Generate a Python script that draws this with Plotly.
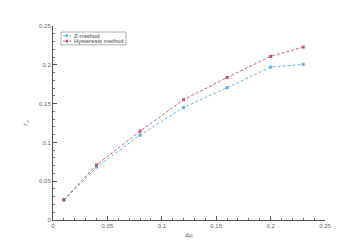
import plotly.graph_objects as go

x_vals = [0.01, 0.04, 0.08, 0.12, 0.16, 0.20, 0.23]
z_method = [0.0255, 0.068, 0.1093, 0.145, 0.1705, 0.197, 0.2006]
hysteresis = [0.0262, 0.071, 0.1144, 0.155, 0.1837, 0.2108, 0.2228]
series_names = ["Z-method", "Hysteresis method"]
colors = ["#5dade2", "#c4506c"]

fig = go.Figure()
for name, vals, c in zip(series_names, [z_method, hysteresis], colors):
    fig.add_trace(go.Scatter(x=x_vals, y=vals, name=name, mode="lines+markers",
                             line=dict(color=c, dash="3px,2px", width=0.9),
                             marker=dict(symbol="square", size=3, color=c),
                             showlegend=False))

axis_common = dict(showgrid=False, zeroline=False, showline=True, linecolor="#555",
                   linewidth=1, ticks="inside", ticklen=4, tickcolor="#555",
                   tickfont=dict(size=6, color="#666", family="Liberation Sans"),
                   minor=dict(ticks="inside", ticklen=2, tickcolor="#777", dtick=0.01))
fig.update_xaxes(range=[0, 0.25], dtick=0.05,
                 title=dict(text="Δμ", font=dict(size=6, color="#555"), standoff=4),
                 **axis_common)
fig.update_yaxes(range=[0, 0.25], dtick=0.05,
                 title=dict(text="Γ<sub>n</sub>", font=dict(size=6, color="#555"), standoff=10),
                 **axis_common)

# compact legend drawn in paper coordinates
fig.add_shape(type="rect", xref="paper", yref="paper", x0=0.0294, x1=0.268, y0=0.903, y1=0.969,
              line=dict(color="#888", width=0.7), fillcolor="white", layer="above")
for i, (name, c) in enumerate(zip(series_names, colors)):
    yy = [0.950, 0.922][i]
    fig.add_shape(type="line", xref="paper", yref="paper", x0=0.0368, x1=0.0662, y0=yy, y1=yy,
                  line=dict(color=c, width=1, dash="dot"), layer="above")
    fig.add_shape(type="rect", xref="paper", yref="paper", x0=0.0478, x1=0.0552,
                  y0=yy - 0.0077, y1=yy + 0.0077, line=dict(width=0), fillcolor=c, layer="above")
    fig.add_annotation(xref="paper", yref="paper", x=0.0699, y=yy, text=name, showarrow=False,
                       xanchor="left", yanchor="middle",
                       font=dict(size=6, color="#444", family="Liberation Sans"))

fig.update_layout(width=351, height=241, margin=dict(l=45, r=34, t=18, b=27),
                  plot_bgcolor="white", paper_bgcolor="white", showlegend=False,
                  font=dict(family="Liberation Sans"))

fig.write_html("out.html")
